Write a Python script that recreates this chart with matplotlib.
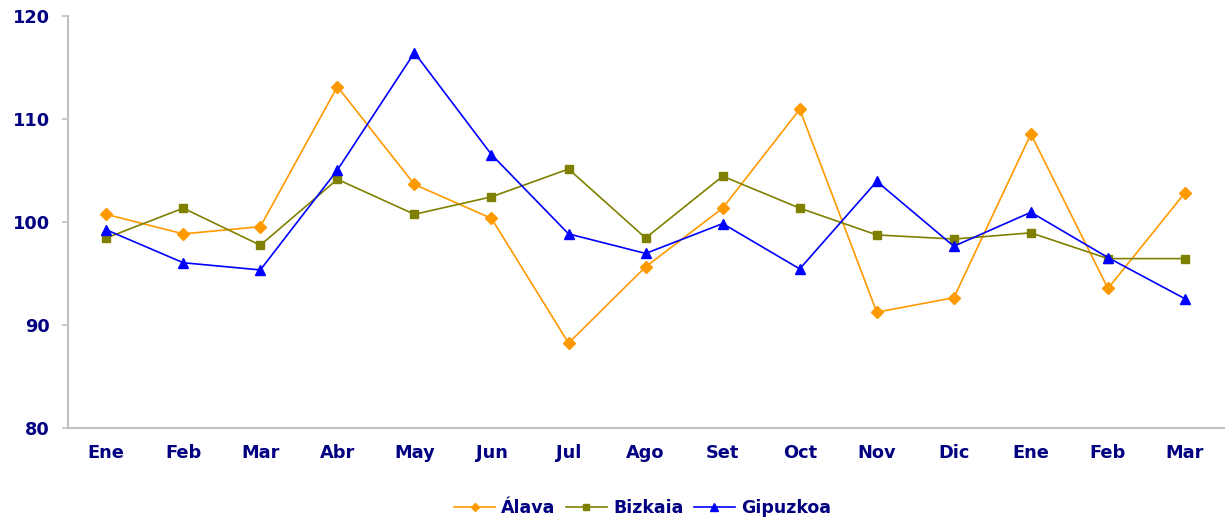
import matplotlib
matplotlib.use("Agg")
import matplotlib.pyplot as plt

months = ["Ene", "Feb", "Mar", "Abr", "May", "Jun", "Jul", "Ago", "Set", "Oct", "Nov", "Dic", "Ene", "Feb", "Mar"]
alava = [100.7, 98.8, 99.5, 113.1, 103.6, 100.3, 88.2, 95.6, 101.3, 110.9, 91.2, 92.6, 108.5, 93.5, 102.8]
bizkaia = [98.4, 101.3, 97.7, 104.1, 100.7, 102.4, 105.1, 98.4, 104.4, 101.3, 98.7, 98.3, 98.9, 96.4, 96.4]
gipuzkoa = [99.2, 96.0, 95.3, 105.0, 116.4, 106.5, 98.8, 96.9, 99.8, 95.4, 103.9, 97.6, 100.9, 96.5, 92.5]
yticks = [80, 90, 100, 110, 120]

navy = "#000080"
plt.rcParams['font.family'] = ['DejaVu Sans']

fig = plt.figure(figsize=(12.26, 5.19), dpi=100)
ax = fig.add_axes([0.0552, 0.1763, 0.998 - 0.0552, 0.970 - 0.1763])

x = list(range(len(months)))
ax.plot(x, alava, color="#FF9900", marker="D", markersize=6.2, linewidth=1.2, label="Álava")
ax.plot(x, bizkaia, color="#808000", marker="s", markersize=6.0, linewidth=1.2, label="Bizkaia")
ax.plot(x, gipuzkoa, color="#0000FF", marker="^", markersize=7.5, linewidth=1.2, label="Gipuzkoa")

ax.set_xlim(-0.5, len(months) - 0.5)
ax.set_ylim(80, 120)
ax.set_yticks(yticks)
ax.set_xticks(x)
ax.set_xticklabels(months)

for s in ["top", "right"]:
    ax.spines[s].set_visible(False)
for s in ["left", "bottom"]:
    ax.spines[s].set_color("#c0c0c0")
    ax.spines[s].set_linewidth(1.5)

ax.tick_params(axis="y", length=4.5, width=1.2, color="#c0c0c0", pad=8.3,
               labelsize=12.8, labelcolor=navy)
ax.tick_params(axis="x", length=0, pad=12, labelsize=12.8, labelcolor=navy)
for lab in ax.get_xticklabels() + ax.get_yticklabels():
    lab.set_fontweight("bold")

leg = fig.legend(loc="center", bbox_to_anchor=(0.524, 0.021), ncol=3, frameon=False,
                 prop={"weight": "bold", "size": 12.5}, handlelength=2.36,
                 columnspacing=0.6, handletextpad=0.35, borderpad=0, markerscale=0.7)
for t in leg.get_texts():
    t.set_color(navy)

fig.savefig("out.png", dpi=100)
